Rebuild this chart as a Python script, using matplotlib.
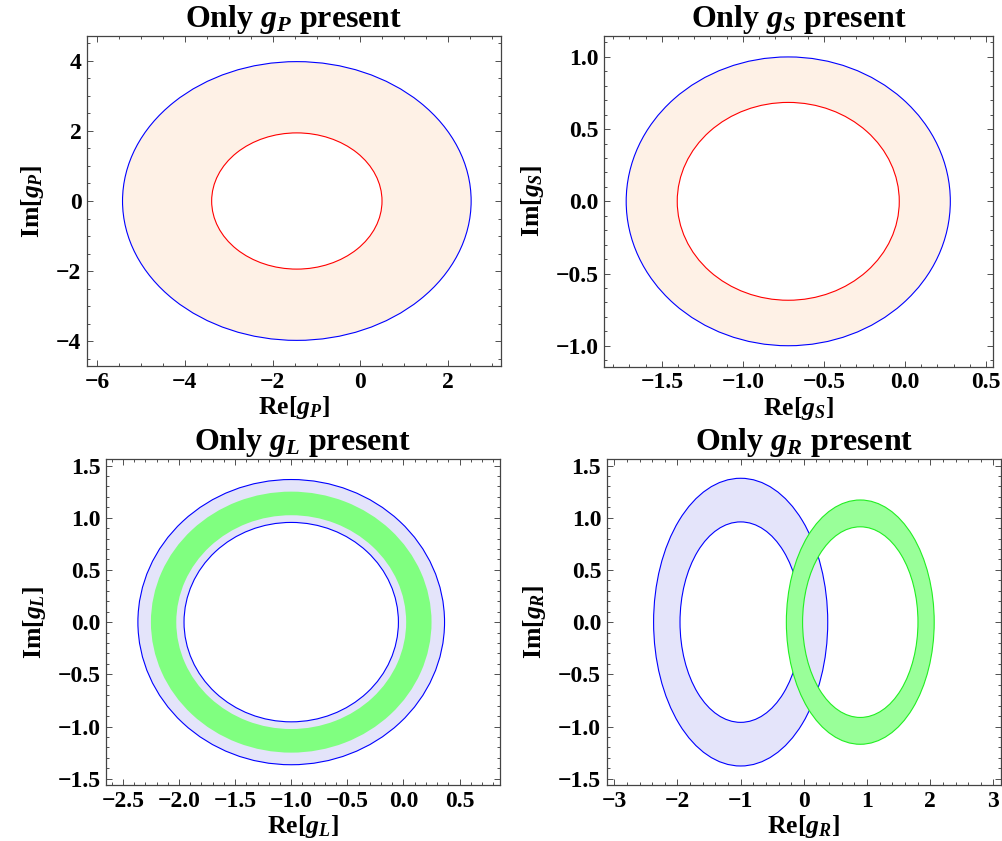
import matplotlib

matplotlib.use("Agg")
import matplotlib.pyplot as plt
from matplotlib.patches import Annulus, Circle
from matplotlib.ticker import MultipleLocator

# allowed regions: rings in the complex coupling plane (centre on Re axis, inner/outer radius)
P_CENTER = -1.45
P_RADII = [1.94, 3.97]
S_CENTER = -0.72
S_RADII = [0.685, 1.0]
L_CENTER = -1.0
L_BLUE_RADII = [0.955, 1.366]
L_GREEN_RADII = [1.024, 1.25]
R_BLUE_CENTER = -1.0
R_BLUE_RADII = [0.96, 1.378]
R_GREEN_CENTER = 0.893
R_GREEN_RADII = [0.913, 1.17]

PEACH = "#fef1e6"
LAVENDER = "#e4e4fa"

plt.rcParams["font.family"] = ["Liberation Serif", "DejaVu Serif"]
plt.rcParams["font.weight"] = "bold"
plt.rcParams["axes.titleweight"] = "bold"
plt.rcParams["axes.labelweight"] = "bold"
plt.rcParams["mathtext.fontset"] = "custom"
plt.rcParams["mathtext.rm"] = "Liberation Serif:bold"
plt.rcParams["mathtext.it"] = "Liberation Serif:italic:bold"
plt.rcParams["mathtext.bf"] = "Liberation Serif:bold"


def _ring(ax, center, radii, face, edges, zorder=1):
    r_in, r_out = radii
    ax.add_patch(Annulus((center, 0), r_out, r_out - r_in, facecolor=face,
                         edgecolor="none", zorder=zorder))
    for r, col in zip(radii, edges):
        if col is not None:
            ax.add_patch(Circle((center, 0), r, fill=False, edgecolor=col,
                                linewidth=0.8, zorder=zorder + 0.5))


def _style(ax, sub, xlim, ylim, xmaj, xmin, ymaj, ymin):
    ax.set_xlim(*xlim)
    ax.set_ylim(*ylim)
    ax.xaxis.set_major_locator(MultipleLocator(xmaj))
    ax.xaxis.set_minor_locator(MultipleLocator(xmin))
    ax.yaxis.set_major_locator(MultipleLocator(ymaj))
    ax.yaxis.set_minor_locator(MultipleLocator(ymin))
    ax.tick_params(which="both", direction="in", top=True, right=True,
                   labelsize=17, width=0.6, color="#333333", pad=4)
    ax.tick_params(which="major", length=4.3)
    ax.tick_params(which="minor", length=2.4)
    for sp in ax.spines.values():
        sp.set_color("#444444")
        sp.set_linewidth(0.9)
    ax.set_title(f"Only $g_{sub}$ present", fontsize=23, pad=3)
    ax.set_xlabel(f"Re[$g_{sub}$]", fontsize=18.5, labelpad=1)
    ax.set_ylabel(f"Im[$g_{sub}$]", fontsize=18.5, labelpad=7)


fig = plt.figure(figsize=(10.03, 8.41), dpi=100)
ax1 = fig.add_axes([0.0867, 0.5648, 0.4128, 0.3924])
ax2 = fig.add_axes([0.6025, 0.5640, 0.3878, 0.3932])
ax3 = fig.add_axes([0.1057, 0.0666, 0.3928, 0.3873])
ax4 = fig.add_axes([0.6049, 0.0666, 0.3931, 0.3873])

_ring(ax1, P_CENTER, P_RADII, PEACH, ["red", "blue"])
_style(ax1, "P", (-6.23, 3.2), (-4.7, 4.7), 2, 0.5, 2, 0.5)

_ring(ax2, S_CENTER, S_RADII, PEACH, ["red", "blue"])
_style(ax2, "S", (-1.855, 0.545), (-1.145, 1.145), 0.5, 0.1, 0.5, 0.1)

_ring(ax3, L_CENTER, L_BLUE_RADII, LAVENDER, ["blue", "blue"])
_ring(ax3, L_CENTER, L_GREEN_RADII, "#80ff80", [None, None], zorder=3)
_style(ax3, "L", (-2.65, 0.86), (-1.56, 1.56), 0.5, 0.1, 0.5, 0.1)

_ring(ax4, R_BLUE_CENTER, R_BLUE_RADII, LAVENDER, ["blue", "blue"])
_ring(ax4, R_GREEN_CENTER, R_GREEN_RADII, "#99ff99", ["#22ee22", "#22ee22"], zorder=3)
_style(ax4, "R", (-3.12, 3.12), (-1.56, 1.56), 1, 0.2, 0.5, 0.1)

fig.savefig("out.png", dpi=100)
